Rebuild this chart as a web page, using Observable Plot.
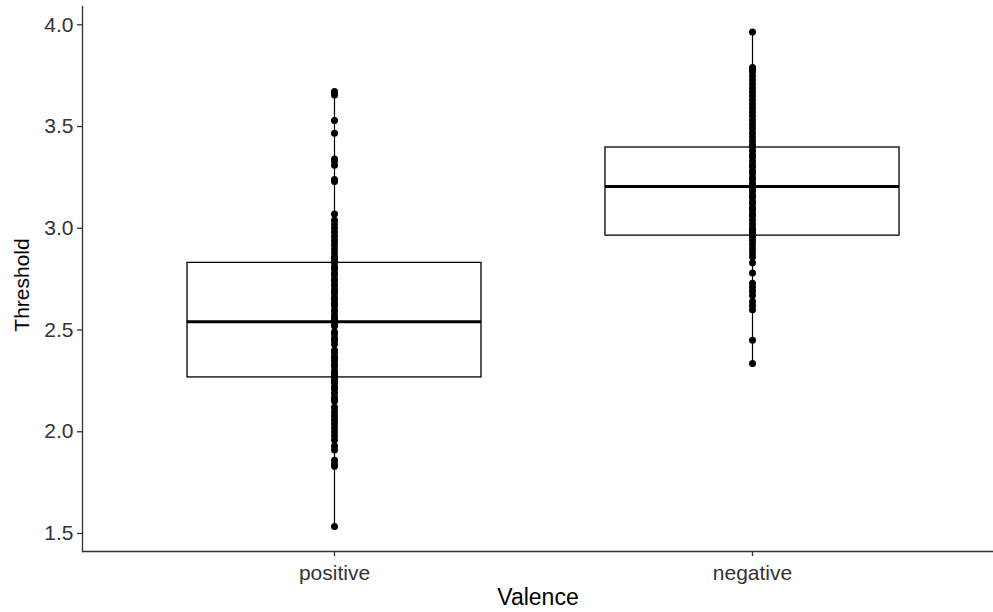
<!DOCTYPE html>
<html>
<head>
<meta charset="utf-8">
<script src="https://cdn.jsdelivr.net/npm/d3@7"></script>
<script src="https://cdn.jsdelivr.net/npm/@observablehq/plot@0.6"></script>
<style>
  html, body { margin: 0; padding: 0; background: #fff; }
  #chart svg { display: block; }
</style>
</head>
<body>
<div id="chart"></div>
<script>
const categories = ["positive", "negative"];

const positiveValues = [3.672, 3.665, 3.655, 3.53, 3.467, 3.34, 3.33, 3.31, 3.24, 3.23, 3.07, 3.04, 3.02, 3.00, 2.98, 2.96, 2.94, 2.92, 2.90, 2.88, 2.86, 2.85, 2.84, 2.83, 2.81, 2.80, 2.78, 2.77, 2.75, 2.74, 2.72, 2.70, 2.69, 2.68, 2.66, 2.65, 2.63, 2.62, 2.60, 2.59, 2.57, 2.56, 2.55, 2.54, 2.53, 2.52, 2.49, 2.48, 2.46, 2.45, 2.43, 2.40, 2.39, 2.37, 2.36, 2.35, 2.33, 2.32, 2.30, 2.29, 2.28, 2.27, 2.26, 2.25, 2.24, 2.22, 2.21, 2.19, 2.17, 2.16, 2.15, 2.12, 2.10, 2.08, 2.06, 2.04, 2.02, 2.00, 1.98, 1.96, 1.93, 1.91, 1.86, 1.84, 1.83, 1.534];

const negativeValues = [3.965, 3.79, 3.78, 3.77, 3.75, 3.73, 3.71, 3.69, 3.67, 3.65, 3.63, 3.61, 3.59, 3.57, 3.55, 3.53, 3.51, 3.49, 3.47, 3.45, 3.43, 3.41, 3.40, 3.38, 3.36, 3.35, 3.33, 3.31, 3.30, 3.28, 3.27, 3.25, 3.24, 3.22, 3.21, 3.20, 3.19, 3.18, 3.16, 3.15, 3.13, 3.12, 3.10, 3.09, 3.07, 3.06, 3.04, 3.02, 3.00, 2.99, 2.98, 2.97, 2.96, 2.94, 2.92, 2.90, 2.88, 2.86, 2.83, 2.78, 2.73, 2.71, 2.69, 2.67, 2.64, 2.62, 2.60, 2.45, 2.335];

// box summary (per category, same order)
const lowerWhisker = [1.534, 2.335];
const q1 = [2.267, 2.964];
const median = [2.541, 3.205];
const q3 = [2.830, 3.397];
const upperWhisker = [3.672, 3.965];

const yTicks = [1.5, 2.0, 2.5, 3.0, 3.5, 4.0];
const yDomain = [1.4115, 4.09];

const stats = categories.map((c, i) => ({
  valence: c, lo: lowerWhisker[i], q1: q1[i], median: median[i], q3: q3[i], hi: upperWhisker[i]
}));
const points = [
  ...positiveValues.map(v => ({valence: "positive", value: v})),
  ...negativeValues.map(v => ({valence: "negative", value: v}))
];

const font = "'Liberation Sans', Arial, sans-serif";

const chart = Plot.plot({
  width: 993,
  height: 612,
  marginTop: 6,
  marginBottom: 61,
  marginLeft: 82,
  marginRight: 0,
  style: {fontFamily: font, background: "#fff", color: "#000"},
  x: {type: "band", domain: categories, paddingInner: 0.297, paddingOuter: 0.237, align: 0.525, label: null},
  y: {domain: yDomain, label: null},
  marks: [
    Plot.axisY({ticks: yTicks, tickFormat: d3.format(".1f"), tickSize: 5, tickPadding: 4, fontSize: 21, label: null, stroke: "#333", fill: "#333", strokeWidth: 1.3}),
    Plot.axisX({tickSize: 5, tickPadding: 9, fontSize: 21, label: null, stroke: "#333", fill: "#333", strokeWidth: 1.3}),
    Plot.frame({anchor: "left", stroke: "#333", strokeWidth: 1.3}),
    Plot.ruleY([yDomain[0]], {stroke: "#333", strokeWidth: 1.3}),
    Plot.ruleX(stats, {x: "valence", y1: "lo", y2: "hi", stroke: "#000", strokeWidth: 1.2}),
    Plot.barY(stats, {x: "valence", y1: "q1", y2: "q3", fill: "#fff", stroke: "#000", strokeWidth: 1.3}),
    Plot.tickY(stats, {x: "valence", y: "median", stroke: "#000", strokeWidth: 3}),
    Plot.dot(points, {x: "valence", y: "value", r: 3.5, fill: "#000", stroke: null}),
    Plot.text(["Valence"], {frameAnchor: "bottom", dy: 53, fontSize: 23, fill: "#000"}),
    Plot.text(["Threshold"], {frameAnchor: "left", textAnchor: "middle", rotate: -90, dx: -60, dy: 6, fontSize: 21, fill: "#000"})
  ]
});
document.getElementById("chart").append(chart);
</script>
</body>
</html>
